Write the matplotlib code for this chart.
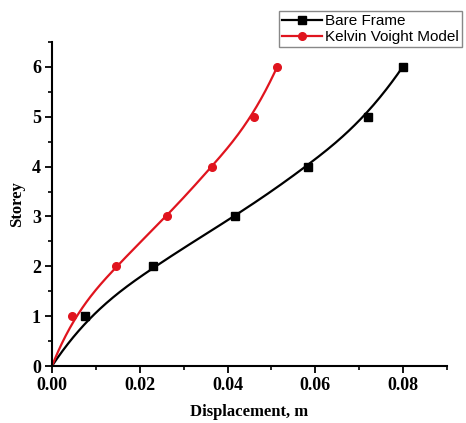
import numpy as np
import matplotlib
matplotlib.use("Agg")
import matplotlib.pyplot as plt
from matplotlib.ticker import MultipleLocator

storey = [0, 1, 2, 3, 4, 5, 6]
bare_frame = [0.0, 0.0075, 0.0230, 0.0417, 0.0583, 0.0721, 0.0799]
kelvin_voight = [0.0, 0.0045, 0.0145, 0.0261, 0.0365, 0.0461, 0.0513]
labels = ["Bare Frame", "Kelvin Voight Model"]


def bspline(xs, ys, k=3, num=300):
    P = np.column_stack([xs, ys]).astype(float)
    n = len(P)
    inner = np.arange(1, n - k)
    knots = np.concatenate([np.zeros(k + 1), inner, np.full(k + 1, n - k)]).astype(float)
    t = np.linspace(0, n - k, num)
    t[-1] -= 1e-9

    def basis(i, p, tt):
        if p == 0:
            return np.where((knots[i] <= tt) & (tt < knots[i + 1]), 1.0, 0.0)
        a = 0.0
        b = 0.0
        d1 = knots[i + p] - knots[i]
        d2 = knots[i + p + 1] - knots[i + 1]
        if d1 > 0:
            a = (tt - knots[i]) / d1 * basis(i, p - 1, tt)
        if d2 > 0:
            b = (knots[i + p + 1] - tt) / d2 * basis(i + 1, p - 1, tt)
        return a + b

    B = np.array([basis(i, k, t) for i in range(n)])
    C = B.T @ P
    return C[:, 0], C[:, 1]


fig = plt.figure(figsize=(4.66, 4.23), dpi=100)
ax = fig.add_axes([52 / 466, 57 / 423, (447 - 52) / 466, (366 - 42) / 423])

series = [(bare_frame, "black", "s"), (kelvin_voight, "#e0141e", "o")]
handles = []
for vals, col, mk in series:
    cx, cy = bspline(vals, storey)
    ax.plot(cx, cy, color=col, lw=1.6, zorder=2)
    ax.plot(vals[1:], storey[1:], ls="none", marker=mk, color=col, ms=5.5, zorder=3)
    h, = ax.plot([], [], color=col, lw=1.6, marker=mk, ms=5.5)
    handles.append(h)

ax.set_xlim(0, 0.09)
ax.set_ylim(0, 6.5)
ax.xaxis.set_major_locator(MultipleLocator(0.02))
ax.xaxis.set_minor_locator(MultipleLocator(0.01))
ax.yaxis.set_major_locator(MultipleLocator(1))
ax.yaxis.set_minor_locator(MultipleLocator(0.5))
ax.set_xticks([0, 0.02, 0.04, 0.06, 0.08])
ax.set_xticklabels(["0.00", "0.02", "0.04", "0.06", "0.08"])
ax.set_yticks(storey)

for s in ["top", "right"]:
    ax.spines[s].set_visible(False)
for s in ["left", "bottom"]:
    ax.spines[s].set_linewidth(1.5)
ax.tick_params(which="major", direction="out", length=5, width=1.3, pad=3)
ax.tick_params(which="minor", direction="out", length=3, width=1.2)
for lab in ax.get_xticklabels() + ax.get_yticklabels():
    lab.set_fontfamily("Liberation Serif")
    lab.set_fontweight("bold")
    lab.set_fontsize(13)

ax.set_xlabel("Displacement, m", family="Liberation Serif", weight="bold", fontsize=12, labelpad=7)
ax.set_ylabel("Storey", family="Liberation Serif", weight="bold", fontsize=12, labelpad=5)

fig.legend(handles, labels, loc="upper left", bbox_to_anchor=(279 / 466, 1 - 11 / 423),
           prop={"family": "Liberation Sans", "size": 11}, frameon=True, fancybox=False,
           edgecolor="#888888", framealpha=1, handlelength=2.6, handletextpad=0.2,
           borderpad=0.2, labelspacing=0.15, borderaxespad=0)

fig.savefig("out.png", dpi=100)
